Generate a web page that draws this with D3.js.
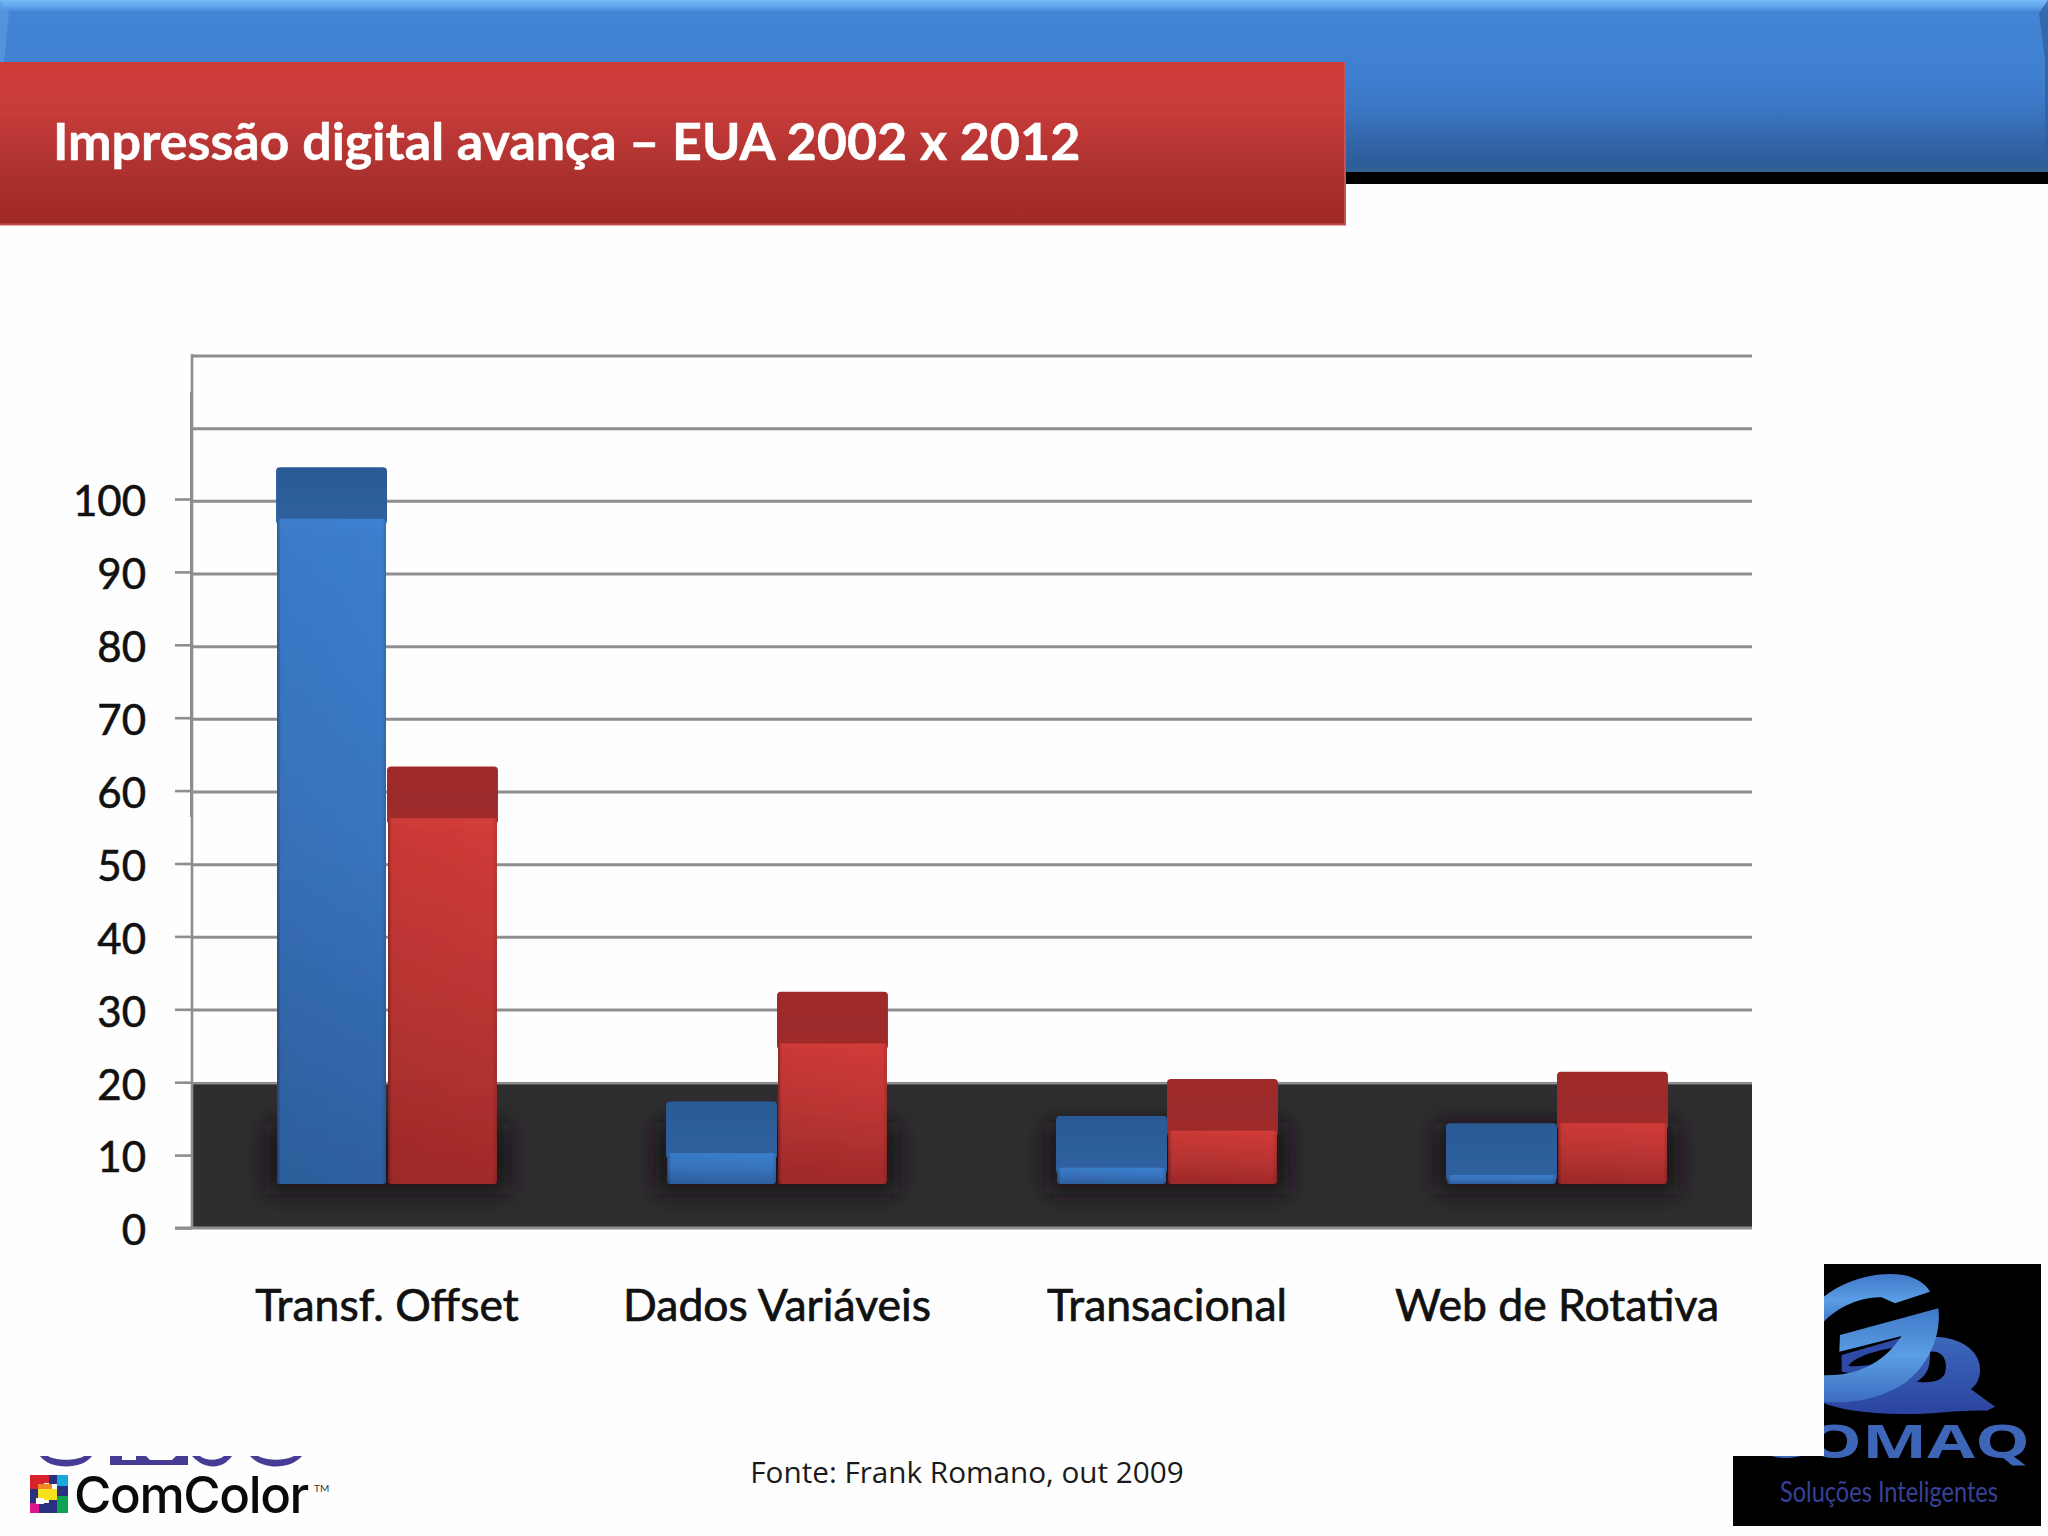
<!DOCTYPE html>
<html lang="pt">
<head>
<meta charset="utf-8">
<title>Impressão digital avança – EUA 2002 x 2012</title>
<script src="https://cdn.jsdelivr.net/npm/d3@7/dist/d3.min.js"></script>
<style>
html,body{margin:0;padding:0;background:#fefefe;}
svg{display:block;}
text{font-family:Lato,"Open Sans",sans-serif;}
</style>
</head>
<body>
<svg id="c" width="2048" height="1536"></svg>
<script>
// ---- data ----
const categories = ["Transf. Offset","Dados Variáveis","Transacional","Web de Rotativa"];
const series2002 = [104.7,17.4,15.4,14.4];
const series2012 = [63.5,32.5,20.5,21.5];
const seriesNames = ["2002","2012"];
const tickValues = [0,10,20,30,40,50,60,70,80,90,100];
const gridValues = [30,40,50,60,70,80,90,100,110,120];
const titleText = "Impressão digital avança – EUA 2002 x 2012";
const sourceText = "Fonte: Frank Romano, out 2009";

// ---- layout constants ----
const plot = {left:192,right:1752,bottom:1228,top:356};
const barFloorValue = 6.05;   // where the front of the bars stands on the floor
const capDepth = 7.1;         // visual depth of the box lid, in axis units
const wallBaseValue = 19.9;   // the back wall meets the floor here

const svg = d3.select("#c");
const defs = svg.append("defs");
function grad(id,stops,horizontal){
  const g = defs.append("linearGradient").attr("id",id)
    .attr("x1",0).attr("y1",0).attr("x2",horizontal?1:0).attr("y2",horizontal?0:1);
  stops.forEach(s=>g.append("stop").attr("offset",s[0]).attr("stop-color",s[1]).attr("stop-opacity",s.length>2?s[2]:1));
}
grad("hdrBlue",[[0,"#74baf8"],[.035,"#62a8ee"],[.07,"#4285d4"],[.45,"#3f7fd0"],[.62,"#3b77c4"],[.85,"#3363a6"],[.965,"#2e5c99"],[1,"#33648f"]]);
grad("hdrRed",[[0,"#cd3938"],[.03,"#d03a39"],[.3,"#c63c3a"],[.65,"#ae322f"],[.96,"#a02a26"],[1,"#a02a26"]]);
grad("blueFront",[[0,"#3f82d2"],[.03,"#3b7ecd"],[.5,"#3873bd"],[1,"#2d609f"]]);
grad("redFront",[[0,"#d63d3b"],[.04,"#d03a38"],[.5,"#bb3533"],[1,"#a02a29"]]);
grad("blueCap",[[0,"#2a5a95"],[.5,"#2c5e9b"],[1,"#2e62a0"]]);
grad("redCap",[[0,"#a12b2a"],[.5,"#9c2a2a"],[1,"#9f2b2a"]]);
grad("sideShade",[[0,"#000",.32],[.035,"#000",.03],[.96,"#000",0],[1,"#000",.14]],true);
grad("gFill",[[0,"#3f78c8"],[.5,"#5a9ee4"],[1,"#3d6cc0"]]);
grad("qFill",[[0,"#3d68bb"],[1,"#2a44a0"]]);
const blur = defs.append("filter").attr("id","shadow").attr("x","-30%").attr("y","-40%").attr("width","160%").attr("height","180%");
blur.append("feGaussianBlur").attr("stdDeviation",11);
const soft = defs.append("filter").attr("id","soft").attr("x","-5%").attr("y","-5%").attr("width","110%").attr("height","110%");
soft.append("feGaussianBlur").attr("stdDeviation",.7);
defs.append("clipPath").attr("id","floorClip").append("rect")
  .attr("x",plot.left).attr("y",1084).attr("width",plot.right-plot.left).attr("height",144);

// ---- header ----
const header = svg.append("g");
header.append("rect").attr("x",0).attr("y",171).attr("width",2048).attr("height",13).attr("fill","#000");
header.append("rect").attr("x",0).attr("y",0).attr("width",2048).attr("height",172).attr("fill","url(#hdrBlue)");
header.append("path").attr("d","M0,0L9,13L4,62H0Z").attr("fill","#5f9fe2").attr("opacity",.6);
header.append("path").attr("d","M2048,0L2039,13L2045,60V170H2048Z").attr("fill","#2f5f9f").attr("opacity",.75);
header.append("rect").attr("x",0).attr("y",62).attr("width",1345).attr("height",163).attr("fill","url(#hdrRed)");
header.append("path").attr("d","M0,224.5H1345V62").attr("fill","none").attr("stroke","#c9504f").attr("stroke-width",2);
header.append("text").attr("x",53).attr("y",160).attr("fill","#fff").attr("font-size",52).attr("font-weight",700)
  .attr("stroke","#fff").attr("stroke-width",.5).text(titleText);

// ---- scales ----
const y = d3.scaleLinear().domain([0,120]).range([plot.bottom,plot.top]);
const yTicks = d3.scaleLinear().domain([0,100]).range([1228,499]);
const x0 = d3.scaleBand().domain(categories).range([plot.left,plot.right]).paddingInner(.431).paddingOuter(.2155);
const x1 = d3.scaleBand().domain(seriesNames).range([0,x0.bandwidth()]);

// ---- wall gridlines ----
const chart = svg.append("g");
chart.append("g").selectAll("line").data(gridValues).join("line")
  .attr("x1",plot.left).attr("x2",plot.right)
  .attr("y1",d=>y(d)).attr("y2",d=>y(d))
  .attr("stroke","#8f8d8f").attr("stroke-width",3);

// ---- floor ----
chart.append("rect").attr("x",plot.left).attr("y",y(wallBaseValue)-1.5)
  .attr("width",plot.right-plot.left).attr("height",3).attr("fill","#8f8d8f");
chart.append("rect").attr("x",plot.left).attr("y",y(wallBaseValue)+1)
  .attr("width",plot.right-plot.left).attr("height",y(0)-y(wallBaseValue)-2).attr("fill","#2f2d2f");

// ---- y axis ----
const axis = d3.axisLeft(yTicks).tickValues(tickValues).tickSize(17).tickPadding(29).tickFormat(d3.format("d"));
const ag = chart.append("g").attr("transform",`translate(${plot.left},0)`).call(axis);
ag.select(".domain").remove();
ag.selectAll(".tick line").attr("stroke","#8f8d8f").attr("stroke-width",2.6);
ag.selectAll(".tick text").attr("dy",".4em").attr("fill","#111").attr("font-size",42).attr("font-family","Lato,sans-serif").attr("stroke","#111").attr("stroke-width",.6);
chart.append("line").attr("x1",plot.left).attr("x2",plot.left).attr("y1",354).attr("y2",plot.bottom)
  .attr("stroke","#8f8d8f").attr("stroke-width",2.6);
chart.append("line").attr("x1",plot.left-1).attr("x2",plot.left-1).attr("y1",392).attr("y2",817)
  .attr("stroke","#8f8d8f").attr("stroke-width",2);
chart.append("line").attr("x1",plot.left-17).attr("x2",plot.right).attr("y1",y(0)).attr("y2",y(0))
  .attr("stroke","#8f8d8f").attr("stroke-width",3);

// ---- bars ----
const rows = categories.map((c,i)=>({c,vals:[
  {s:seriesNames[0],v:series2002[i],front:"url(#blueFront)",cap:"url(#blueCap)"},
  {s:seriesNames[1],v:series2012[i],front:"url(#redFront)",cap:"url(#redCap)"}]}));

// soft shadow on the floor, kept inside the floor area
const shadowLayer = chart.append("g").attr("clip-path","url(#floorClip)");
shadowLayer.selectAll("rect").data(rows).join("rect")
  .attr("x",d=>x0(d.c)-10).attr("width",x0.bandwidth()+20)
  .attr("y",d=>y(14.5))
  .attr("height",d=>y(barFloorValue)-y(14.5)+10)
  .attr("fill","#121112").attr("opacity",.8).attr("filter","url(#shadow)");

const groups = chart.append("g").attr("filter","url(#soft)").selectAll("g").data(rows).join("g")
  .attr("transform",d=>`translate(${x0(d.c)},0)`);
const bars = groups.selectAll("g.bar").data(d=>d.vals).join("g").attr("class","bar")
  .attr("transform",d=>`translate(${x1(d.s)},0)`);
bars.append("rect").attr("x",0).attr("width",x1.bandwidth())
  .attr("y",d=>y(d.v)).attr("height",d=>y(d.v-capDepth)-y(d.v)+6)
  .attr("rx",4).attr("fill",d=>d.cap);
bars.append("rect").attr("x",1).attr("width",x1.bandwidth()-2)
  .attr("y",d=>y(d.v-capDepth)).attr("height",d=>y(barFloorValue)-y(d.v-capDepth))
  .attr("rx",3).attr("fill",d=>d.front);
bars.append("rect").attr("x",1).attr("width",x1.bandwidth()-2)
  .attr("y",d=>y(d.v-capDepth)).attr("height",d=>y(barFloorValue)-y(d.v-capDepth))
  .attr("rx",3).attr("fill","url(#sideShade)");

// ---- category labels ----
chart.append("g").selectAll("text").data(categories).join("text")
  .attr("x",d=>x0(d)+x0.bandwidth()/2).attr("y",1321)
  .attr("text-anchor","middle").attr("font-size",44.5).attr("fill","#111").attr("stroke","#111").attr("stroke-width",.7)
  .text(d=>d);

// ---- source ----
svg.append("text").attr("x",967).attr("y",1483).attr("text-anchor","middle")
  .style("font-family","'Open Sans',sans-serif")
  .attr("font-size",29.7).attr("fill","#1a1a1a").text(sourceText);

// ---- ComColor logo ----
const left = svg.append("g");
defs.append("clipPath").attr("id","purpleClip").append("rect").attr("x",0).attr("y",1456).attr("width",400).attr("height",12);
const purple = left.append("g").attr("clip-path","url(#purpleClip)").attr("fill","#463c96");
purple.append("path").attr("d","M40,1456C50,1470 82,1470 92,1456L84,1456C76,1461 56,1461 48,1456Z");
purple.append("path").attr("d","M110,1456V1465H188V1456H176L172,1460H150L146,1456H136V1460H122V1456Z");
purple.append("path").attr("d","M192,1456C205,1470 222,1470 232,1456L224,1456C218,1461 206,1461 200,1456Z");
purple.append("path").attr("d","M250,1456C262,1470 290,1470 302,1456L294,1456C284,1461 268,1461 258,1456Z");
const cells = [
 [30,1475,14,14,"#d8212b"],[44,1475,5,8,"#d8212b"],[49,1475,8,9,"#2a2f7f"],[57,1475,11,11,"#18a8dd"],
 [57,1486,11,10,"#2a2f7f"],[30,1503,9,10,"#e0158c"],[39,1503,10,10,"#2a2f7f"],[49,1500,8,13,"#2a2f7f"],
 [57,1496,11,17,"#0da34f"],[30,1489,8,14,"#2a2f7f"],[38,1484,14,5,"#f08a20"],[38,1489,19,11,"#f7e11a"],[36,1498,8,6,"#ffffff"]];
left.append("g").selectAll("rect").data(cells).join("rect")
  .attr("x",d=>d[0]).attr("y",d=>d[1]).attr("width",d=>d[2]).attr("height",d=>d[3]).attr("fill",d=>d[4]);
left.append("text").attr("x",74).attr("y",1513).style("font-family","Inter,Lato,sans-serif")
  .attr("font-size",51).attr("font-weight",500).attr("letter-spacing",-1.4).attr("fill","#0a0a0a").text("ComColor");
left.append("text").attr("x",314).attr("y",1492).attr("font-size",10).attr("fill","#333").text("TM");

// ---- GQ logo ----
const right = svg.append("g");
right.append("rect").attr("x",1824).attr("y",1264).attr("width",217).attr("height",262).attr("fill","#000");
right.append("rect").attr("x",1733).attr("y",1456).attr("width",308).attr("height",70).attr("fill","#000");
defs.append("clipPath").attr("id","gClip").append("path").attr("d","M1824,1264H2041V1526H1733V1456H1824Z");
const gq = right.append("g").attr("clip-path","url(#gClip)");
const mark = gq.append("g").attr("transform","translate(1700,1240) scale(0.3333)");
mark.append("path").attr("fill-rule","evenodd").attr("fill","url(#qFill)")
  .attr("d","M700,290C790,290 845,340 840,395C838,420 825,440 812,447L885,500L860,512C760,510 700,525 600,522C500,520 420,510 360,485L373,420C450,400 560,400 600,340C630,300 660,290 700,290ZM690,335C730,330 745,365 735,400C725,425 690,430 650,425C690,400 690,370 690,335Z");
mark.append("path").attr("fill-rule","evenodd").attr("fill","#2c4aa6")
  .attr("d","M425,345L600,295L570,365L490,405L425,395ZM445,378C470,345 540,330 590,322C565,365 520,382 445,378Z");
mark.append("path").attr("fill","url(#gFill)")
  .attr("d","M340,200C400,130 520,90 610,105C650,112 680,135 690,155L585,190L545,172C480,170 400,205 360,260Z");
mark.append("path").attr("fill","url(#gFill)")
  .attr("d","M420,285L715,205C725,280 690,370 620,425C550,475 450,495 360,485L360,405C450,410 540,385 605,288L418,335Z");
gq.append("text").attr("x",1757).attr("y",1458).style("font-family","'Open Sans',sans-serif")
  .attr("font-size",47).attr("font-weight",700).attr("fill","#3d66b8")
  .attr("textLength",273).attr("lengthAdjust","spacingAndGlyphs").text("GOMAQ");
right.append("text").attr("x",1780).attr("y",1502).style("font-family","Lato,sans-serif")
  .attr("font-size",28).attr("fill","#36429a")
  .attr("textLength",218).attr("lengthAdjust","spacingAndGlyphs").text("Soluções Inteligentes");
</script>
</body>
</html>
